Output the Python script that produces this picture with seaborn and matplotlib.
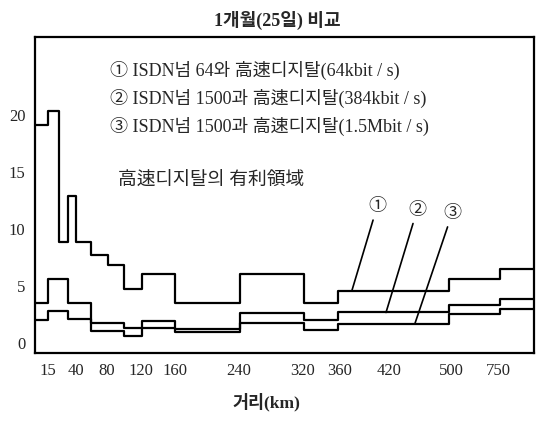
import numpy as np
import pandas as pd
import matplotlib
matplotlib.use('Agg')
import matplotlib.pyplot as plt
import seaborn as sns

# 거리 구간 경계 (그림 위 x축 위치, 비선형 눈금)
band_edges = [0, 13, 24, 33, 41, 56, 73, 89, 107, 140, 205, 269, 303, 414, 465, 499]

# 구간별 요금 비율 (①, ②, ③)
ratio_1 = [19.1, 20.3, 8.8, 12.9, 8.8, 7.7, 6.8, 4.7, 6.0, 3.5, 6.0, 3.5, 4.5, 5.6, 6.5]
ratio_2 = [3.5, 5.6, 5.6, 3.5, 3.5, 1.7, 1.7, 1.3, 1.9, 1.2, 2.6, 2.0, 2.7, 3.3, 3.8]
ratio_3 = [2.0, 2.8, 2.8, 2.1, 2.1, 1.0, 1.0, 0.55, 1.3, 0.9, 1.7, 1.15, 1.6, 2.5, 2.95]

tick_pos = [13, 41, 72, 106, 140, 204, 268, 305, 354, 416, 463]
tick_labels = ['15', '40', '80', '120', '160', '240', '320', '360', '420', '500', '750']

legend_lines = [
    '① ISDN넘 64와 高速디지탈(64kbit / s)',
    '② ISDN넘 1500과 高速디지탈(384kbit / s)',
    '③ ISDN넘 1500과 高速디지탈(1.5Mbit / s)',
]

rows = []
for name, vals in [('①', ratio_1), ('②', ratio_2), ('③', ratio_3)]:
    ys = vals + [vals[-1]]
    for x, y in zip(band_edges, ys):
        rows.append({'series': name, 'pos': x, 'ratio': y})
df = pd.DataFrame(rows)

sns.set_style('white')
plt.rcParams['font.family'] = ['Liberation Serif', 'Noto Sans CJK KR']

fig = plt.figure(figsize=(5.36, 4.30), dpi=100)
ax = fig.add_axes([35/536, 1 - 353/430, 499/536, 316/430])

sns.lineplot(data=df, x='pos', y='ratio', hue='series', palette=['black'] * 3,
             estimator=None, sort=False, drawstyle='steps-post', linewidth=1.6,
             legend=False, ax=ax)

ax.set_xlim(0, 499)
ax.set_ylim(-0.9, 26.8)
ax.set_xticks(tick_pos)
ax.set_xticklabels(tick_labels, fontsize=12)
ax.set_yticks([0, 5, 10, 15, 20])
ax.set_yticklabels(['0', '5', '10', '15', '20'], fontsize=12)
ax.tick_params(length=0, pad=7)
ax.set_xlabel('')
ax.set_ylabel('')
for s in ax.spines.values():
    s.set_color('black')
    s.set_linewidth(1.6)

# 범례 텍스트
for i, t in enumerate(legend_lines):
    fig.text(110/536, 1 - (70 + 28*i)/430, t, fontsize=13,
             ha='left', va='center')
fig.text(118/536, 1 - 181/430, '高速디지탈의 有利領域', fontsize=13.5,
         ha='left', va='center')

# 번호 지시선
for lab, xy, xyt in [('①', (317, 4.6), (342, 11.9)),
                     ('②', (351, 2.65), (382, 11.6)),
                     ('③', (380, 1.7), (417, 11.3))]:
    ax.annotate(lab, xy=xy, xytext=xyt, fontsize=13, ha='center', va='center',
                arrowprops=dict(arrowstyle='-', lw=1.2, color='black',
                                shrinkA=1, shrinkB=0))

fig.text(277/536, 1 - 20/430, '1개월(25일) 비교', fontsize=13, fontweight='bold',
         ha='center', va='center')
fig.text(266/536, 1 - 402/430, '거리(km)', fontsize=12.5, fontweight='bold',
         ha='center', va='center')

fig.savefig('out.png', dpi=100)
